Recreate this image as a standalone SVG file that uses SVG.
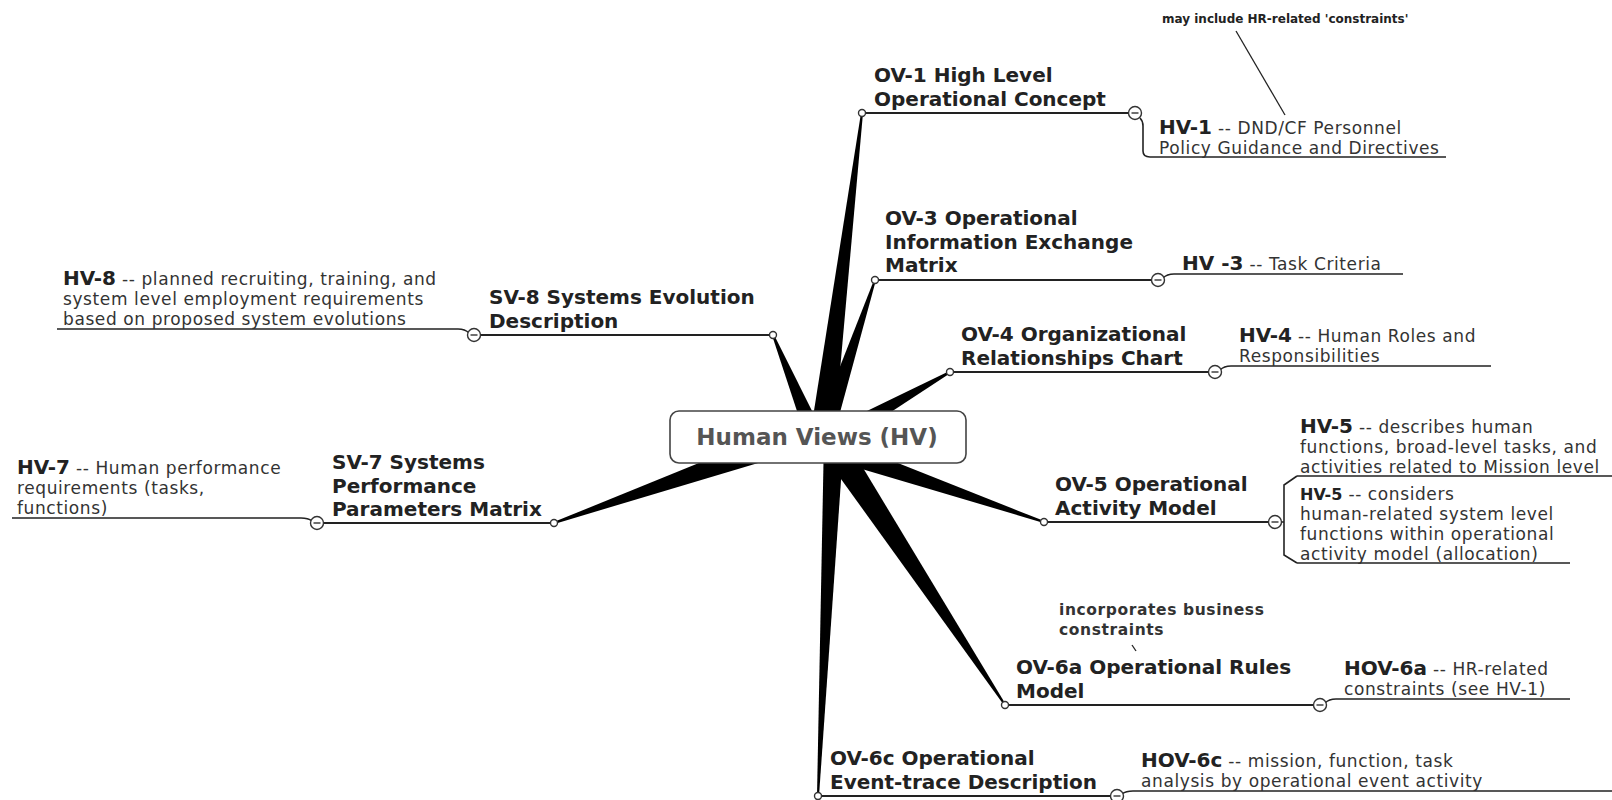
<svg xmlns="http://www.w3.org/2000/svg" width="1612" height="800" viewBox="0 0 1612 800">
<style>
text{font-family:"DejaVu Sans","Liberation Sans",sans-serif}
.title{font-weight:bold;font-size:20px;fill:#222}
.desc{font-size:17px;letter-spacing:0.6px;fill:#333}
.pre{font-weight:bold;font-size:20px;letter-spacing:0;fill:#222}
.pre2{font-weight:bold;font-size:16px;letter-spacing:0;fill:#222}
.note{font-weight:bold;font-size:15.5px;letter-spacing:0.6px;fill:#333}
.notes{font-weight:bold;font-size:12px;fill:#222}
.center{font-weight:bold;font-size:23px;fill:#555}
.spoke{fill:#000}
.line{stroke:#222;stroke-width:2;fill:none}
.sub{stroke:#222;stroke-width:1.6;fill:none}
.thin{stroke:#222;stroke-width:1.3;fill:none}
.tip{fill:#fff;stroke:#333;stroke-width:1.4}
.col{fill:#fff;stroke:#333;stroke-width:1.4}
.minus{stroke:#333;stroke-width:1.4}
</style>
<rect width="1612" height="800" fill="#fff"/>
<g id="connectors">
  <polygon class="spoke" points="833.9,438.5 863,113.1 861,112.9 810.1,435.5"/>
  <polygon class="spoke" points="832.5,440.1 875.9,280.3 874.1,279.7 813.5,433.9"/>
  <polygon class="spoke" points="823.3,433.6 773.9,334.6 772.1,335.4 806.7,440.4"/>
  <polygon class="spoke" points="834.9,448.7 950.5,372.9 949.5,371.1 825.1,431.3"/>
  <polygon class="spoke" points="826.4,458.4 1043.7,522.9 1044.3,521.1 833.6,437.6"/>
  <polygon class="spoke" points="816.3,444.7 1004.2,705.6 1005.8,704.4 839.7,429.3"/>
  <polygon class="spoke" points="824,436.6 817,796 819,796 844,437.4"/>
  <polygon class="spoke" points="794.3,452.3 554.3,523.9 553.7,522.1 785.7,427.7"/>
  <line class="line" x1="862" y1="113" x2="1135" y2="113"/>
  <line class="line" x1="875" y1="280" x2="1158" y2="280"/>
  <line class="line" x1="950" y1="372" x2="1215" y2="372"/>
  <line class="line" x1="773" y1="335" x2="474" y2="335"/>
  <line class="line" x1="554" y1="523" x2="317" y2="523"/>
  <line class="line" x1="1044" y1="522" x2="1275" y2="522"/>
  <line class="line" x1="1005" y1="705" x2="1320" y2="705"/>
  <line class="line" x1="818" y1="796" x2="1117" y2="796"/>
  <path class="sub" d="M1140,118 Q1143,121 1143,126 V151 Q1143,157 1150,157 H1446"/>
  <path class="sub" d="M1163,278 Q1167,274 1174,274 H1403"/>
  <path class="sub" d="M1220,370 Q1224,366 1231,366 H1491"/>
  <path class="sub" d="M469,333 Q465,329 458,329 H57"/>
  <path class="sub" d="M312,521 Q308,518 301,518 H12"/>
  <path class="sub" d="M1281,522 H1284 M1297,476 L1284,485 V555 L1297,563 M1297,476 H1612 M1297,563 H1570"/>
  <path class="sub" d="M1325,703 Q1329,699 1336,699 H1570"/>
  <path class="sub" d="M1122,794 Q1126,791 1133,791 H1612"/>
  <line class="thin" x1="1236" y1="31" x2="1285" y2="115"/>
  <line class="thin" x1="1132" y1="645" x2="1136" y2="651"/>
</g>
<g id="center">
  <rect x="670" y="411" width="296" height="52" rx="9" fill="#fff" stroke="#444" stroke-width="1.6"/>
  <text class="center" x="817" y="445" text-anchor="middle">Human Views (HV)</text>
</g>
<g id="ov1">
  <text class="title"><tspan x="874" y="82">OV-1 High Level</tspan><tspan x="874" y="105.5">Operational Concept</tspan></text>
  <circle class="tip" cx="862" cy="113" r="3.5"/>
  <circle class="col" cx="1135" cy="113" r="6.5"/><line class="minus" x1="1131.5" y1="113" x2="1138.5" y2="113"/>
</g>
<g id="hv1">
  <text class="desc" x="1159" y="134"><tspan class="pre">HV-1</tspan> -- DND/CF Personnel</text>
  <text class="desc" x="1159" y="153.5">Policy Guidance and Directives</text>
</g>
<g id="note-hv1">
  <text class="notes" x="1162" y="23">may include HR-related 'constraints'</text>
</g>
<g id="ov3">
  <text class="title"><tspan x="885" y="225">OV-3 Operational</tspan><tspan x="885" y="248.5">Information Exchange</tspan><tspan x="885" y="272">Matrix</tspan></text>
  <circle class="tip" cx="875" cy="280" r="3.5"/>
  <circle class="col" cx="1158" cy="280" r="6.5"/><line class="minus" x1="1154.5" y1="280" x2="1161.5" y2="280"/>
</g>
<g id="hv3">
  <text class="desc" x="1182" y="269.5"><tspan class="pre">HV -3</tspan> -- Task Criteria</text>
</g>
<g id="ov4">
  <text class="title"><tspan x="961" y="341">OV-4 Organizational</tspan><tspan x="961" y="364.5">Relationships Chart</tspan></text>
  <circle class="tip" cx="950" cy="372" r="3.5"/>
  <circle class="col" cx="1215" cy="372" r="6.5"/><line class="minus" x1="1211.5" y1="372" x2="1218.5" y2="372"/>
</g>
<g id="hv4">
  <text class="desc"><tspan x="1239" y="341.5"><tspan class="pre">HV-4</tspan> -- Human Roles and</tspan><tspan x="1239" y="361.5">Responsibilities</tspan></text>
</g>
<g id="sv8">
  <text class="title"><tspan x="489" y="304">SV-8 Systems Evolution</tspan><tspan x="489" y="327.5">Description</tspan></text>
  <circle class="tip" cx="773" cy="335" r="3.5"/>
  <circle class="col" cx="474" cy="335" r="6.5"/><line class="minus" x1="470.5" y1="335" x2="477.5" y2="335"/>
</g>
<g id="hv8">
  <text class="desc"><tspan x="63" y="284.5"><tspan class="pre">HV-8</tspan> -- planned recruiting, training, and</tspan><tspan x="63" y="304.5">system level employment requirements</tspan><tspan x="63" y="324.5">based on proposed system evolutions</tspan></text>
</g>
<g id="sv7">
  <text class="title"><tspan x="332" y="469">SV-7 Systems</tspan><tspan x="332" y="492.5">Performance</tspan><tspan x="332" y="516">Parameters Matrix</tspan></text>
  <circle class="tip" cx="554" cy="523" r="3.5"/>
  <circle class="col" cx="317" cy="523" r="6.5"/><line class="minus" x1="313.5" y1="523" x2="320.5" y2="523"/>
</g>
<g id="hv7">
  <text class="desc"><tspan x="17" y="473.5"><tspan class="pre">HV-7</tspan> -- Human performance</tspan><tspan x="17" y="493.5">requirements (tasks,</tspan><tspan x="17" y="513.5">functions)</tspan></text>
</g>
<g id="ov5">
  <text class="title"><tspan x="1055" y="491">OV-5 Operational</tspan><tspan x="1055" y="514.5">Activity Model</tspan></text>
  <circle class="tip" cx="1044" cy="522" r="3.5"/>
  <circle class="col" cx="1275" cy="522" r="6.5"/><line class="minus" x1="1271.5" y1="522" x2="1278.5" y2="522"/>
</g>
<g id="hv5a">
  <text class="desc"><tspan x="1300" y="432.5"><tspan class="pre">HV-5</tspan> -- describes human</tspan><tspan x="1300" y="452.5">functions, broad-level tasks, and</tspan><tspan x="1300" y="472.5">activities related to Mission level</tspan></text>
</g>
<g id="hv5b">
  <text class="desc"><tspan x="1300" y="499.5"><tspan class="pre2">HV-5</tspan> -- considers</tspan><tspan x="1300" y="519.5">human-related system level</tspan><tspan x="1300" y="539.5">functions within operational</tspan><tspan x="1300" y="559.5">activity model (allocation)</tspan></text>
</g>
<g id="ov6a">
  <text class="title"><tspan x="1016" y="674">OV-6a Operational Rules</tspan><tspan x="1016" y="697.5">Model</tspan></text>
  <circle class="tip" cx="1005" cy="705" r="3.5"/>
  <circle class="col" cx="1320" cy="705" r="6.5"/><line class="minus" x1="1316.5" y1="705" x2="1323.5" y2="705"/>
</g>
<g id="note-ov6a">
  <text class="note"><tspan x="1059" y="615">incorporates business</tspan><tspan x="1059" y="635">constraints</tspan></text>
</g>
<g id="hov6a">
  <text class="desc"><tspan x="1344" y="674.5"><tspan class="pre">HOV-6a</tspan> -- HR-related</tspan><tspan x="1344" y="694.5">constraints (see HV-1)</tspan></text>
</g>
<g id="ov6c">
  <text class="title"><tspan x="830" y="765">OV-6c Operational</tspan><tspan x="830" y="788.5">Event-trace Description</tspan></text>
  <circle class="tip" cx="818" cy="796" r="3.5"/>
  <circle class="col" cx="1117" cy="796" r="6.5"/><line class="minus" x1="1113.5" y1="796" x2="1120.5" y2="796"/>
</g>
<g id="hov6c">
  <text class="desc"><tspan x="1141" y="766.5"><tspan class="pre">HOV-6c</tspan> -- mission, function, task</tspan><tspan x="1141" y="786.5">analysis by operational event activity</tspan></text>
</g>
</svg>
